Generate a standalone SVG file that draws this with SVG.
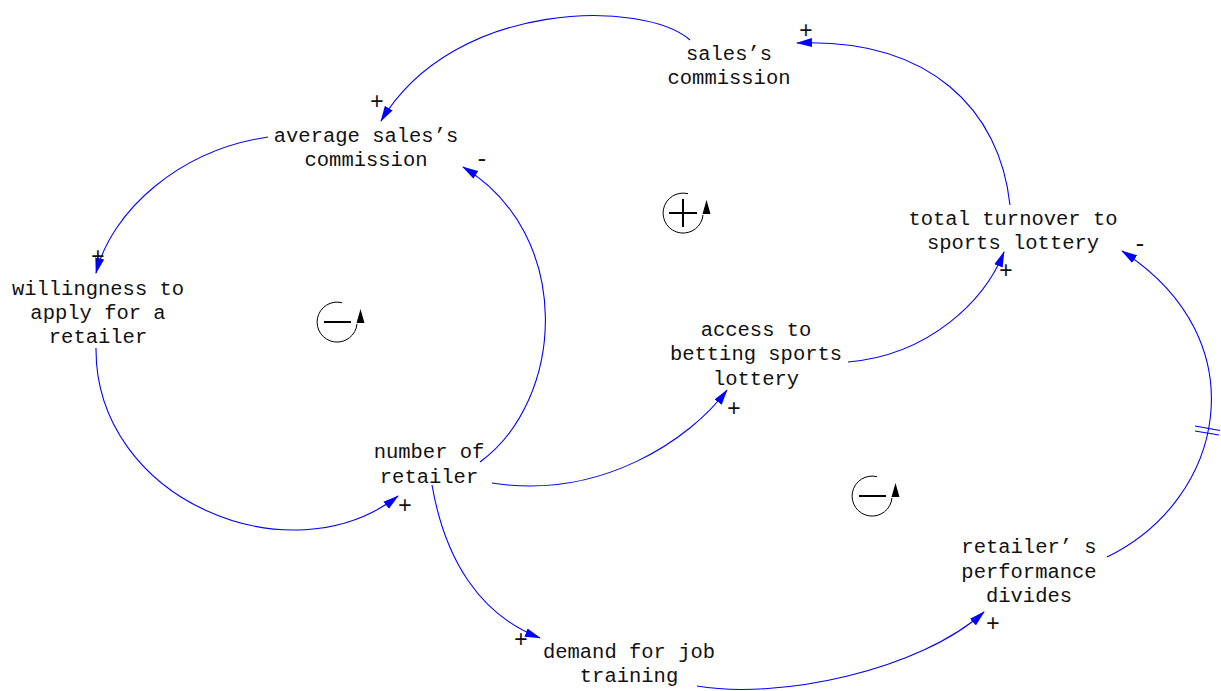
<svg xmlns="http://www.w3.org/2000/svg" width="1221" height="691" viewBox="0 0 1221 691">
<style>
.lbl{font-family:"Liberation Mono","DejaVu Sans Mono",monospace;font-size:20.5px;fill:#111;text-anchor:middle}
.pol{font-family:"Liberation Mono","DejaVu Sans Mono",monospace;font-size:23px;fill:#111;text-anchor:middle;dominant-baseline:central}
.link{fill:none;stroke:#0000ff;stroke-width:1.1;marker-end:url(#ah)}
.loop{fill:none;stroke:#000;stroke-width:1}
.sym{stroke:#000;stroke-width:2}
</style>
<defs>
<marker id="ah" viewBox="0 0 16 10" markerWidth="16" markerHeight="10" refX="15" refY="5" orient="auto" markerUnits="userSpaceOnUse">
<path d="M0,0.5 L16,5 L0,9.5 Z" fill="#0000ff"/>
</marker>
<path id="loopArc" d="M5,-19.3 A20,20 0 1 0 20,2" />
</defs>
<rect width="1221" height="691" fill="#fff"/>
<g id="connectors">
<path class="link" d="M690,40 C645,0 455,-2 381,121"/>
<path class="link" d="M1010,205 C1000,110 930,38 797,43"/>
<path class="link" d="M268,137 C180,150 112,210 96,273"/>
<path class="link" d="M96,348 C95,500 290,580 398,496"/>
<path class="link" d="M480,462 C565,400 575,235 463,167"/>
<path class="link" d="M492,483 C600,500 690,440 727,390"/>
<path class="link" d="M848,362 C930,355 985,300 1004,252"/>
<path class="link" d="M432,485 C445,560 480,615 540,638"/>
<path class="link" d="M697,686 C780,700 920,670 984,612"/>
<path class="link" d="M1107,557 C1225,500 1260,340 1122,251"/>
<g stroke="#0000ff" stroke-width="1.2">
<line x1="1195" y1="426" x2="1220" y2="430.5"/>
<line x1="1195" y1="431" x2="1219" y2="435"/>
</g>
</g>
<g id="polarities">
<text class="pol" x="377" y="103">+</text>
<text class="pol" x="806" y="32">+</text>
<text class="pol" x="98" y="258">+</text>
<text class="pol" x="405" y="507">+</text>
<text class="pol" x="482" y="160">-</text>
<text class="pol" x="734" y="410">+</text>
<text class="pol" x="1006" y="272">+</text>
<text class="pol" x="521" y="641">+</text>
<text class="pol" x="993" y="625">+</text>
<text class="pol" x="1140" y="245">-</text>
</g>
<g id="node-sales-commission"><text class="lbl" x="729" y="60">sales’s</text><text class="lbl" x="729" y="84">commission</text></g>
<g id="node-average-sales-commission"><text class="lbl" x="366" y="142">average sales’s</text><text class="lbl" x="366" y="166">commission</text></g>
<g id="node-willingness"><text class="lbl" x="98" y="295">willingness to</text><text class="lbl" x="98" y="319">apply for a</text><text class="lbl" x="98" y="343">retailer</text></g>
<g id="node-total-turnover"><text class="lbl" x="1013" y="225">total turnover to</text><text class="lbl" x="1013" y="249">sports lottery</text></g>
<g id="node-access"><text class="lbl" x="756" y="336">access to</text><text class="lbl" x="756" y="360">betting sports</text><text class="lbl" x="756" y="385">lottery</text></g>
<g id="node-number-retailer"><text class="lbl" x="429" y="458">number of</text><text class="lbl" x="429" y="483">retailer</text></g>
<g id="node-demand-training"><text class="lbl" x="629" y="658">demand for job</text><text class="lbl" x="629" y="682">training</text></g>
<g id="node-performance"><text class="lbl" x="1029" y="553">retailer’ s</text><text class="lbl" x="1029" y="578">performance</text><text class="lbl" x="1029" y="602">divides</text></g>
<g id="loop-R1" transform="translate(683,213)">
<use href="#loopArc" class="loop"/>
<path d="M23.5,-13 L19.5,1 L27.5,1 Z" fill="#000"/>
<line class="sym" x1="-14" y1="0" x2="14" y2="0"/><line class="sym" x1="0" y1="-14" x2="0" y2="14"/>
</g>
<g id="loop-B1" transform="translate(337,322)">
<use href="#loopArc" class="loop"/>
<path d="M23.5,-13 L19.5,1 L27.5,1 Z" fill="#000"/>
<line class="sym" x1="-13" y1="0" x2="14" y2="0"/>
</g>
<g id="loop-B2" transform="translate(872,496)">
<use href="#loopArc" class="loop"/>
<path d="M23.5,-13 L19.5,1 L27.5,1 Z" fill="#000"/>
<line class="sym" x1="-13" y1="0" x2="14" y2="0"/>
</g>
</svg>
